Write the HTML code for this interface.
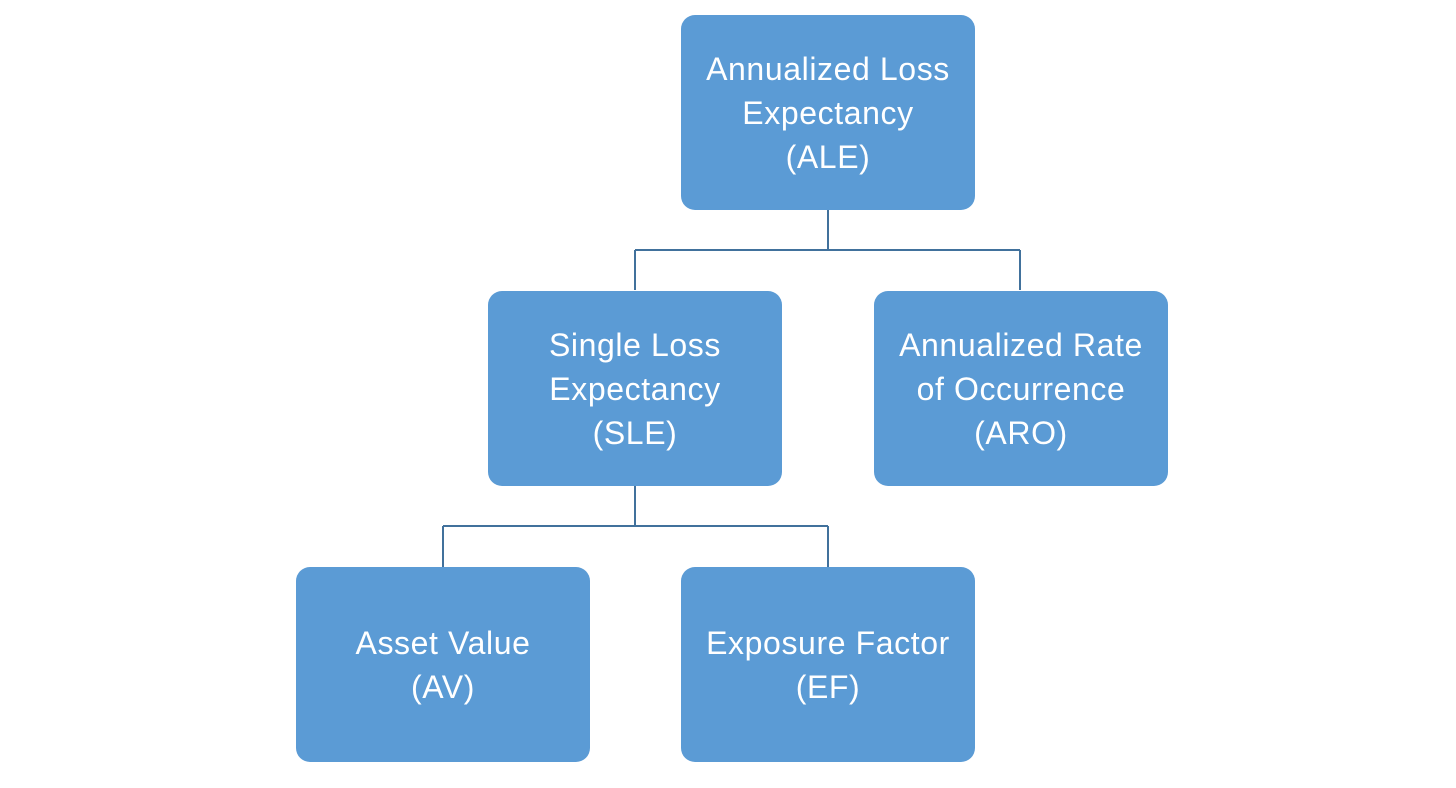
<!DOCTYPE html>
<html><head><style>
body{margin:0;width:1456px;height:788px;background:#fff;position:relative;overflow:hidden;font-family:"Liberation Sans",sans-serif}
.b{position:absolute;width:294px;height:195px;background:#5B9BD5;border-radius:14px;color:#fff;font-size:32px;letter-spacing:0.6px;line-height:44px;display:flex;align-items:center;justify-content:center;text-align:center}
</style></head><body>
<svg width="1456" height="788" style="position:absolute;left:0;top:0">
<g stroke="#41719C" stroke-width="2" fill="none">
<path d="M828 210V250M635 250H1020M635 250V290M1020 250V290"/>
<path d="M635 486V526M443 526H828M443 526V567M828 526V567"/>
</g></svg>
<div class="b" style="left:681px;top:15px">Annualized Loss<br>Expectancy<br>(ALE)</div>
<div class="b" style="left:488px;top:291px">Single Loss<br>Expectancy<br>(SLE)</div>
<div class="b" style="left:874px;top:291px">Annualized Rate<br>of Occurrence<br>(ARO)</div>
<div class="b" style="left:296px;top:567px">Asset Value<br>(AV)</div>
<div class="b" style="left:681px;top:567px">Exposure Factor<br>(EF)</div>
</body></html>
